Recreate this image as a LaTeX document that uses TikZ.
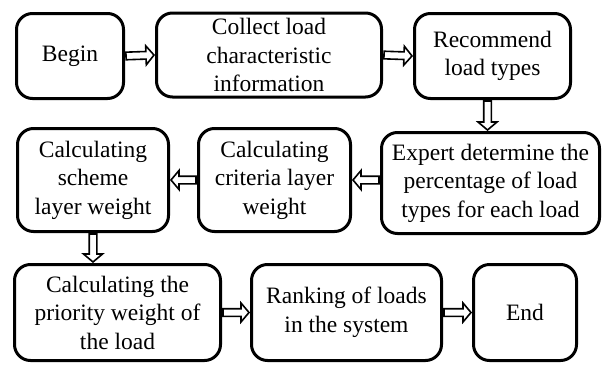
\documentclass[tikz,border=0pt]{standalone}
\usepackage{fontspec}
\setmainfont{Liberation Serif}
\usetikzlibrary{calc}
\tikzset{
  stepbox/.style={draw=black, line width=3pt, rounded corners=16pt, align=center,
    inner sep=0pt, font=\fontsize{23.5}{28.5}\selectfont},
  flow/.style={draw=black, fill=white, line width=1.6pt, line join=miter, to path={
    let \p1=($(\tikztotarget)-(\tikztostart)$), \n1={veclen(\x1,\y1)}, \n2={atan2(\y1,\x1)} in
    { [shift={(\tikztostart)}, rotate=\n2]
      (1pt,-3.8pt) -- ({\n1-9pt},-3.8pt) -- ({\n1-9pt},-9.5pt) -- ({\n1-1pt},0pt)
      -- ({\n1-9pt},9.5pt) -- ({\n1-9pt},3.8pt) -- (1pt,3.8pt) -- cycle }
  }},
}
\begin{document}
\begin{tikzpicture}[x=1pt,y=-1pt]
  \useasboundingbox (0,0) rectangle (604,364);
  % first row
  \node[stepbox, minimum width=107pt, minimum height=85pt] (begin) at (70,56) {Begin};
  \node[stepbox, minimum width=225pt, minimum height=84pt] (collect) at (269,55) {Collect load\\characteristic\\information};
  \node[stepbox, minimum width=156pt, minimum height=85pt] (recommend) at (492.5,56) {Recommend\\load types};
  % second row
  \node[stepbox, minimum width=151pt, minimum height=103pt] (scheme) at (93,180) {Calculating\\scheme\\layer weight};
  \node[stepbox, minimum width=152pt, minimum height=103pt] (criteria) at (274.5,180) {Calculating\\criteria layer\\weight};
  \node[stepbox, minimum width=218pt, minimum height=101pt] (expert) at (490.5,183) {Expert determine the\\percentage of load\\types for each load};
  % third row
  \node[stepbox, minimum width=206pt, minimum height=96pt] (priority) at (117.5,312.5) {Calculating the\\priority weight of\\the load};
  \node[stepbox, minimum width=190pt, minimum height=96pt] (ranking) at (346.5,312.5) {Ranking of loads\\in the system};
  \node[stepbox, minimum width=103pt, minimum height=96pt] (end) at (525,312.5) {End};
  % connectors
  \draw[flow] (begin.east) to (collect.west);
  \draw[flow] (collect.east) to (recommend.west);
  \draw[flow] ([xshift=-5pt]recommend.south) to ([xshift=-5pt]recommend.south |- expert.north);
  \draw[flow] (expert.west |- criteria.east) to (criteria.east);
  \draw[flow] (criteria.west) to (scheme.east);
  \draw[flow] (scheme.south) to (scheme.south |- priority.north);
  \draw[flow] (priority.east) to (ranking.west);
  \draw[flow] (ranking.east) to (end.west);
\end{tikzpicture}
\end{document}
